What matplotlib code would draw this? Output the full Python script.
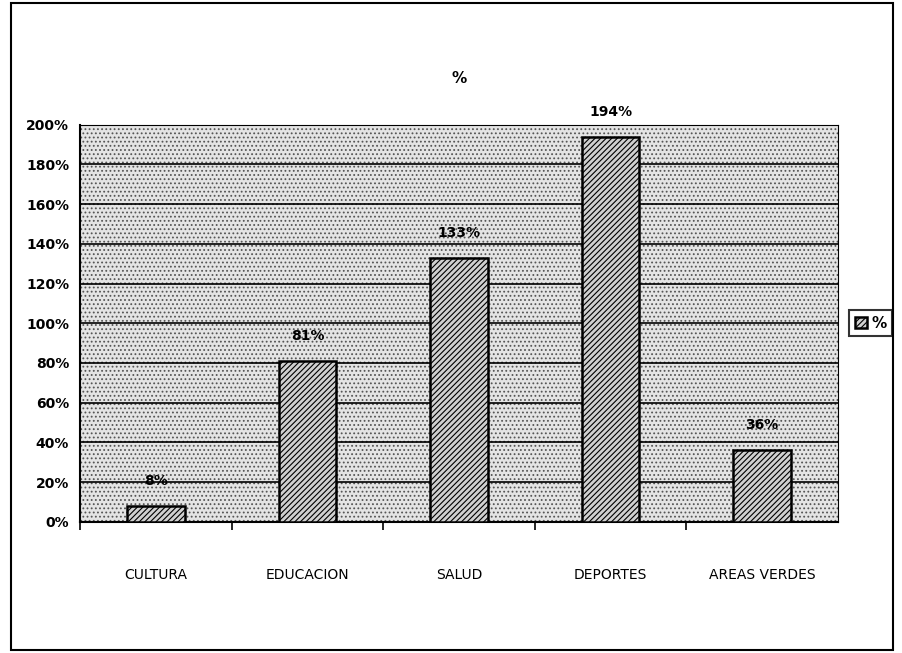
import matplotlib.pyplot as plt
from matplotlib.patches import Rectangle
from matplotlib.ticker import FuncFormatter

plt.rcParams["font.family"] = "DejaVu Sans"
plt.rcParams["font.weight"] = "bold"
plt.rcParams["hatch.linewidth"] = 0.8

categories = ["CULTURA", "EDUCACION", "SALUD", "DEPORTES", "AREAS VERDES"]
values = [8, 81, 133, 194, 36]
labels = ["8%", "81%", "133%", "194%", "36%"]
yticks = [0, 20, 40, 60, 80, 100, 120, 140, 160, 180, 200]

fig = plt.figure(figsize=(9.02, 6.53), dpi=100)
ax = fig.add_axes([0.089, 0.201, 0.84, 0.608])

# dotted plot area
ax.set_facecolor("#e4e4e4")
ax.add_patch(Rectangle((0, 0), 1, 1, transform=ax.transAxes, facecolor="none",
                       edgecolor="#555555", hatch="....", linewidth=0, zorder=0))

ax.set_axisbelow(True)
ax.grid(axis="y", color="black", linewidth=1.2, zorder=1)

x = list(range(len(categories)))
bars = ax.bar(x, values, width=0.38, color="#d0d0d0", edgecolor="black",
              linewidth=1.8, hatch="//////", zorder=3)

for xi, v, lab in zip(x, values, labels):
    ax.text(xi, v + 9, lab, ha="center", va="bottom", fontsize=10, fontweight="bold")

ax.set_xlim(-0.5, 4.5)
ax.set_ylim(0, 200)
ax.set_yticks(yticks)
ax.yaxis.set_major_formatter(FuncFormatter(lambda v, p: f"{int(v)}%"))
ax.set_xticks([i - 0.5 for i in range(0, 5)], minor=False)
ax.set_xticklabels([])
ax.set_xticks(x, minor=True)
ax.set_xticklabels(categories, minor=True, fontsize=10, fontweight="normal")
ax.tick_params(axis="x", which="major", length=6, width=1.2, direction="out")
ax.tick_params(axis="x", which="minor", length=0, pad=33)
ax.tick_params(axis="y", length=0, pad=8, labelsize=10)

for s in ["top", "right"]:
    ax.spines[s].set_linewidth(0.8)
for s in ["left", "bottom"]:
    ax.spines[s].set_linewidth(1.5)

ax.set_title("%", fontsize=11, fontweight="bold", pad=30)

# legend box
leg = ax.legend([bars[0]], ["%"], loc="center left", bbox_to_anchor=(1.005, 0.5),
                frameon=True, fancybox=False, edgecolor="black", handlelength=0.8,
                handleheight=0.8, handletextpad=0.3, borderpad=0.35, fontsize=11)
leg.get_frame().set_linewidth(1.5)

# outer frame
fig.patches.append(Rectangle((0.012, 0.005), 0.978, 0.99, transform=fig.transFigure,
                             fill=False, edgecolor="black", linewidth=1.5))

fig.savefig("out.png", dpi=100)
